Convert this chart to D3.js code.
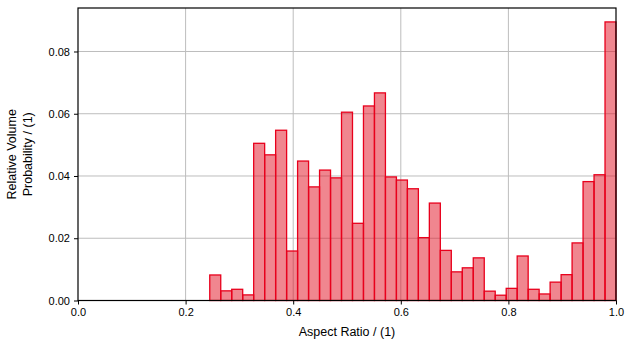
<!DOCTYPE html>
<html>
<head>
<meta charset="utf-8">
<script src="https://cdn.jsdelivr.net/npm/d3@7"></script>
<style>
  body { margin: 0; background: #fff; }
  text { font-family: "Liberation Sans", Arial, sans-serif; fill: #000; }
</style>
</head>
<body>
<div class="histogram"></div>
<script>
// 49 equal bins on [0, 1]
const binCount = 49;
const binValues = [
  0, 0, 0, 0, 0, 0, 0, 0, 0, 0, 0, 0,
  0.0082, 0.0031, 0.0036, 0.0018, 0.0505, 0.0468, 0.0547, 0.0159,
  0.0448, 0.0365, 0.0419, 0.0394, 0.0605, 0.0248, 0.0625, 0.0667,
  0.0397, 0.0387, 0.0359, 0.0202, 0.0313, 0.0161, 0.0092, 0.0105,
  0.0137, 0.0030, 0.0017, 0.0039, 0.0143, 0.0036, 0.0021, 0.0059,
  0.0083, 0.0185, 0.0382, 0.0404, 0.0895
];
const xTicks = [0, 0.2, 0.4, 0.6, 0.8, 1.0];
const yTicks = [0, 0.02, 0.04, 0.06, 0.08];

const width = 631,
  height = 349,
  margin = { top: 8, right: 15, bottom: 49, left: 78 };

const svg = d3.select('.histogram')
  .append('svg')
  .attr('width', width)
  .attr('height', height);

const x = d3.scaleLinear()
  .domain([0, 1])
  .range([margin.left, width - margin.right]);
const y = d3.scaleLinear()
  .domain([0, d3.max(binValues) * 1.05])
  .range([height - margin.bottom + 0.5, margin.top]);

const bins = binValues.map((v, i) => ({ x0: i / binCount, x1: (i + 1) / binCount, v }));

// grid
svg.append('g')
  .selectAll('line')
  .data(xTicks.slice(1, -1))
  .enter()
  .append('line')
  .attr('x1', d => x(d)).attr('x2', d => x(d))
  .attr('y1', y.range()[0]).attr('y2', margin.top)
  .attr('stroke', '#bdbdbd').attr('stroke-width', 1);
svg.append('g')
  .selectAll('line')
  .data(yTicks.slice(1))
  .enter()
  .append('line')
  .attr('x1', margin.left).attr('x2', width - margin.right)
  .attr('y1', d => y(d)).attr('y2', d => y(d))
  .attr('stroke', '#bdbdbd').attr('stroke-width', 1);

// bars
svg.append('g')
  .selectAll('rect')
  .data(bins)
  .enter()
  .append('rect')
  .attr('x', d => x(d.x0))
  .attr('width', d => x(d.x1) - x(d.x0))
  .attr('y', d => y(d.v))
  .attr('height', d => y(0) - y(d.v))
  .attr('fill', 'rgba(225, 13, 31, 0.5)')
  .attr('stroke', '#e8001c')
  .attr('stroke-width', 1.3);

// frame
svg.append('rect')
  .attr('x', margin.left)
  .attr('y', margin.top)
  .attr('width', width - margin.right - margin.left)
  .attr('height', y.range()[0] - margin.top)
  .attr('fill', 'none')
  .attr('stroke', '#000')
  .attr('stroke-width', 1.2);

const xAxis = svg.append('g')
  .attr('transform', 'translate(0,' + y.range()[0] + ')')
  .call(d3.axisBottom(x).tickValues(xTicks).tickFormat(d3.format('.1f')).tickSize(4).tickPadding(4));
const yAxis = svg.append('g')
  .attr('transform', 'translate(' + margin.left + ',0)')
  .call(d3.axisLeft(y).tickValues(yTicks).tickFormat(d3.format('.2f')).tickSize(4).tickPadding(4));
[xAxis, yAxis].forEach(a => {
  a.select('.domain').remove();
  a.selectAll('line').attr('stroke', '#000');
  a.selectAll('text').style('font-size', '11px').style('font-family', '"Liberation Sans", Arial, sans-serif');
});

svg.append('text')
  .attr('x', (x(0) + x(1)) / 2)
  .attr('y', 336)
  .attr('text-anchor', 'middle')
  .style('font-size', '12.5px')
  .text('Aspect Ratio / (1)');

const yLab = svg.append('text')
  .attr('transform', 'translate(16,' + ((y.range()[0] + margin.top) / 2) + ') rotate(-90)')
  .attr('text-anchor', 'middle')
  .style('font-size', '12.5px');
yLab.append('tspan').attr('x', 0).attr('dy', 0).text('Relative Volume');
yLab.append('tspan').attr('x', 0).attr('dy', 16).text('Probability / (1)');
</script>
</body>
</html>
